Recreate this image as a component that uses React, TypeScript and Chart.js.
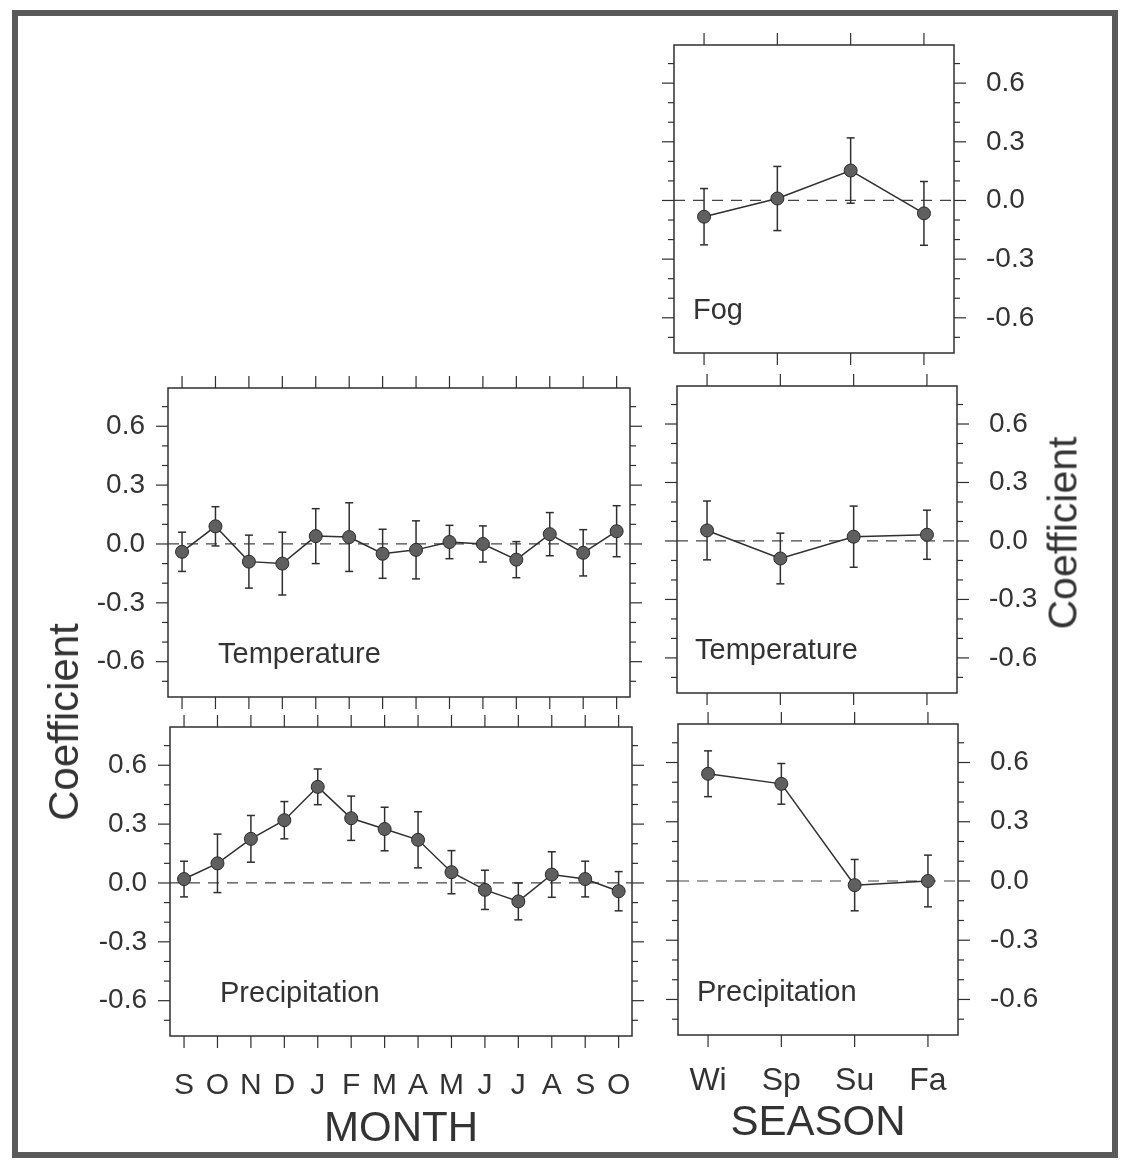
import React, { useEffect, useRef } from "react";
import { Chart, registerables } from "chart.js";

Chart.register(...registerables);

// ---------- data ----------
const monthLabels = ["S", "O", "N", "D", "J", "F", "M", "A", "M", "J", "J", "A", "S", "O"];
const seasonLabels = ["Wi", "Sp", "Su", "Fa"];

const yTickValues = [-0.6, -0.3, 0, 0.3, 0.6];
const yTickLabels = ["-0.6", "-0.3", "0.0", "0.3", "0.6"];
const yMinorTickValues = [-0.7, -0.6, -0.5, -0.4, -0.3, -0.2, -0.1, 0, 0.1, 0.2, 0.3, 0.4, 0.5, 0.6, 0.7];

const monthTempValues = [-0.04, 0.09, -0.09, -0.1, 0.04, 0.035, -0.05, -0.03, 0.01, 0.0, -0.08, 0.05, -0.045, 0.065];
const monthTempErrors = [0.1, 0.1, 0.135, 0.16, 0.14, 0.175, 0.125, 0.148, 0.085, 0.092, 0.092, 0.11, 0.118, 0.13];

const monthPrecipValues = [0.02, 0.1, 0.225, 0.32, 0.49, 0.33, 0.275, 0.22, 0.055, -0.035, -0.094, 0.043, 0.02, -0.042];
const monthPrecipErrors = [0.091, 0.149, 0.119, 0.095, 0.091, 0.113, 0.111, 0.143, 0.11, 0.1, 0.094, 0.116, 0.091, 0.1];

const seasonFogValues = [-0.083, 0.01, 0.153, -0.066];
const seasonFogErrors = [0.144, 0.164, 0.167, 0.163];

const seasonTempValues = [0.054, -0.09, 0.022, 0.032];
const seasonTempErrors = [0.151, 0.13, 0.157, 0.126];

const seasonPrecipValues = [0.543, 0.492, -0.021, 0.0];
const seasonPrecipErrors = [0.116, 0.103, 0.13, 0.131];

// ---------- style ----------
const FONT = '"Liberation Sans", Arial, Helvetica, sans-serif';
const TEXT = "#333333";
const INK = "#2f2f2f";
const Y_MIN = -0.78;
const Y_MAX = 0.795;

type Box = { l: number; t: number; r: number; b: number };

type PanelProps = {
  box: Box;
  labels: string[];
  values: number[];
  errors: number[];
  name: string;
  ySide: "left" | "right";
  showXLabels: boolean;
  xTitle?: string;
  xMin: number;
  xMax: number;
  nameDx: number;
  xLabelPad: number;
  xLabelSize: number;
  titlePad: number;
};

function Panel(p: PanelProps) {
  const ref = useRef<HTMLCanvasElement | null>(null);
  const sideW = p.ySide === "left" ? 110 : 100;
  const otherW = 24;
  const topH = 20;
  const bottomH = p.showXLabels ? 122 : 20;
  const boxW = p.box.r - p.box.l;
  const boxH = p.box.b - p.box.t;
  const W = boxW + sideW + otherW;
  const H = boxH + topH + bottomH;
  const left = p.box.l - (p.ySide === "left" ? sideW : otherW);
  const top = p.box.t - topH;

  useEffect(() => {
    const canvas = ref.current;
    if (!canvas) return;

    const line = (ctx: CanvasRenderingContext2D, x1: number, y1: number, x2: number, y2: number) => {
      ctx.beginPath();
      ctx.moveTo(x1, y1);
      ctx.lineTo(x2, y2);
      ctx.stroke();
    };

    const panelPlugin = {
      id: "panelDecor",
      beforeDatasetsDraw(chart: any) {
        const { ctx, chartArea: a, scales } = chart;
        const xs = scales.x;
        const ys = scales.y;
        ctx.save();
        // zero reference line
        ctx.strokeStyle = "#444";
        ctx.lineWidth = 1.2;
        ctx.setLineDash([11, 8]);
        const y0 = ys.getPixelForValue(0);
        line(ctx, a.left, y0, a.right, y0);
        ctx.setLineDash([]);
        // frame
        ctx.strokeStyle = INK;
        ctx.lineWidth = 1.5;
        ctx.strokeRect(a.left, a.top, a.right - a.left, a.bottom - a.top);
        // y tick marks on both sides
        ctx.lineWidth = 1.2;
        for (const v of yMinorTickValues) {
          const py = ys.getPixelForValue(v);
          const major = yTickValues.some((t) => Math.abs(t - v) < 1e-6);
          const len = major ? 12 : 6;
          line(ctx, a.left - len, py, a.left, py);
          line(ctx, a.right, py, a.right + len, py);
        }
        // x tick marks top and bottom
        p.labels.forEach((_, i) => {
          const px = xs.getPixelForValue(i);
          line(ctx, px, a.top - 12, px, a.top);
          line(ctx, px, a.bottom, px, a.bottom + 12);
        });
        // error bars
        ctx.strokeStyle = INK;
        ctx.lineWidth = 1.5;
        p.values.forEach((v, i) => {
          const px = xs.getPixelForValue(i);
          const hi = ys.getPixelForValue(v + p.errors[i]);
          const lo = ys.getPixelForValue(v - p.errors[i]);
          line(ctx, px, hi, px, lo);
          line(ctx, px - 4, hi, px + 4, hi);
          line(ctx, px - 4, lo, px + 4, lo);
        });
        ctx.restore();
      },
      afterDraw(chart: any) {
        const { ctx, chartArea: a } = chart;
        ctx.save();
        ctx.font = `29px ${FONT}`;
        ctx.fillStyle = TEXT;
        ctx.textBaseline = "alphabetic";
        ctx.textAlign = "left";
        ctx.fillText(p.name, a.left + p.nameDx, a.bottom - 34);
        ctx.restore();
      },
    };

    const zeroPad = (s: any) => {
      s.paddingLeft = 0;
      s.paddingRight = 0;
      s.paddingTop = 0;
      s.paddingBottom = 0;
    };

    const chart = new Chart(canvas, {
      type: "line",
      data: {
        datasets: [
          {
            data: p.values.map((v, i) => ({ x: i, y: v })),
            borderColor: INK,
            borderWidth: 1.5,
            pointRadius: 6.5,
            pointBackgroundColor: "#5f5f5f",
            pointBorderColor: "#2a2a2a",
            pointBorderWidth: 1,
            tension: 0,
            fill: false,
          },
        ],
      },
      options: {
        responsive: false,
        animation: false,
        events: [],
        layout: {
          padding:
            p.ySide === "left"
              ? { left: 0, right: otherW, top: topH, bottom: 0 }
              : { left: otherW, right: 0, top: topH, bottom: 0 },
        },
        plugins: {
          legend: { display: false },
          tooltip: { enabled: false },
        },
        scales: {
          x: {
            type: "linear",
            position: "bottom",
            min: p.xMin,
            max: p.xMax,
            grid: { display: false, drawTicks: false, tickLength: 0 },
            border: { display: false },
            afterBuildTicks: (s: any) => {
              s.ticks = p.labels.map((_, i) => ({ value: i }));
            },
            afterFit: (s: any) => {
              s.height = bottomH;
              zeroPad(s);
            },
            ticks: {
              display: p.showXLabels,
              autoSkip: false,
              maxRotation: 0,
              minRotation: 0,
              padding: p.xLabelPad,
              color: TEXT,
              font: { family: FONT, size: p.xLabelSize },
              callback: (_v: any, idx: number) => p.labels[idx],
            },
            title: {
              display: !!p.xTitle,
              text: p.xTitle || "",
              color: TEXT,
              font: { family: FONT, size: 42 },
              padding: { top: 0, bottom: p.titlePad },
            },
          },
          y: {
            type: "linear",
            position: p.ySide,
            min: Y_MIN,
            max: Y_MAX,
            grid: { display: false, drawTicks: false, tickLength: 0 },
            border: { display: false },
            afterBuildTicks: (s: any) => {
              s.ticks = yTickValues.map((v) => ({ value: v }));
            },
            afterFit: (s: any) => {
              s.width = sideW;
              zeroPad(s);
            },
            ticks: {
              padding: p.ySide === "left" ? 23 : 32,
              color: TEXT,
              font: { family: FONT, size: 28 },
              callback: (_v: any, idx: number) => yTickLabels[idx],
            },
          },
        },
      },
      plugins: [panelPlugin],
    } as any);

    return () => chart.destroy();
  }, []);

  return (
    <canvas
      ref={ref}
      width={W}
      height={H}
      style={{ position: "absolute", left, top, width: W, height: H }}
    />
  );
}

export default function App() {
  const MONTH_X_MIN = -0.42;
  const MONTH_X_MAX = 13.4;
  const SEASON_X_MIN = -0.41;
  const SEASON_X_MAX = 3.41;
  return (
    <div
      style={{
        position: "absolute",
        left: 0,
        top: 0,
        width: 1125,
        height: 1162,
        background: "#ffffff",
        overflow: "hidden",
        fontFamily: FONT,
      }}
    >
      <div
        style={{
          position: "absolute",
          left: 12,
          top: 10,
          width: 1094,
          height: 1136,
          border: "6px solid #5a5a5a",
        }}
      />
      <Panel
        box={{ l: 674, t: 45, r: 954, b: 353 }}
        labels={seasonLabels}
        values={seasonFogValues}
        errors={seasonFogErrors}
        name="Fog"
        ySide="right"
        showXLabels={false}
        xMin={SEASON_X_MIN}
        xMax={SEASON_X_MAX}
        nameDx={19}
        xLabelPad={27}
        xLabelSize={32}
        titlePad={0}
      />
      <Panel
        box={{ l: 168, t: 388, r: 630, b: 697 }}
        labels={monthLabels}
        values={monthTempValues}
        errors={monthTempErrors}
        name="Temperature"
        ySide="left"
        showXLabels={false}
        xMin={MONTH_X_MIN}
        xMax={MONTH_X_MAX}
        nameDx={50}
        xLabelPad={32}
        xLabelSize={30}
        titlePad={0}
      />
      <Panel
        box={{ l: 677, t: 386, r: 957, b: 693 }}
        labels={seasonLabels}
        values={seasonTempValues}
        errors={seasonTempErrors}
        name="Temperature"
        ySide="right"
        showXLabels={false}
        xMin={SEASON_X_MIN}
        xMax={SEASON_X_MAX}
        nameDx={18}
        xLabelPad={27}
        xLabelSize={32}
        titlePad={0}
      />
      <Panel
        box={{ l: 170, t: 727, r: 632, b: 1036 }}
        labels={monthLabels}
        values={monthPrecipValues}
        errors={monthPrecipErrors}
        name="Precipitation"
        ySide="left"
        showXLabels={true}
        xTitle="MONTH"
        xMin={MONTH_X_MIN}
        xMax={MONTH_X_MAX}
        nameDx={50}
        xLabelPad={32}
        xLabelSize={30}
        titlePad={3}
      />
      <Panel
        box={{ l: 678, t: 724, r: 958, b: 1035 }}
        labels={seasonLabels}
        values={seasonPrecipValues}
        errors={seasonPrecipErrors}
        name="Precipitation"
        ySide="right"
        showXLabels={true}
        xTitle="SEASON"
        xMin={SEASON_X_MIN}
        xMax={SEASON_X_MAX}
        nameDx={19}
        xLabelPad={27}
        xLabelSize={32}
        titlePad={8}
      />
      <div
        style={{
          position: "absolute",
          left: 64,
          top: 722,
          transform: "translate(-50%, -50%) rotate(-90deg)",
          fontSize: 42,
          lineHeight: 1,
          color: TEXT,
          whiteSpace: "nowrap",
        }}
      >
        Coefficient
      </div>
      <div
        style={{
          position: "absolute",
          left: 1063,
          top: 533,
          transform: "translate(-50%, -50%) rotate(-90deg)",
          fontSize: 41,
          lineHeight: 1,
          color: TEXT,
          whiteSpace: "nowrap",
        }}
      >
        Coefficient
      </div>
    </div>
  );
}
